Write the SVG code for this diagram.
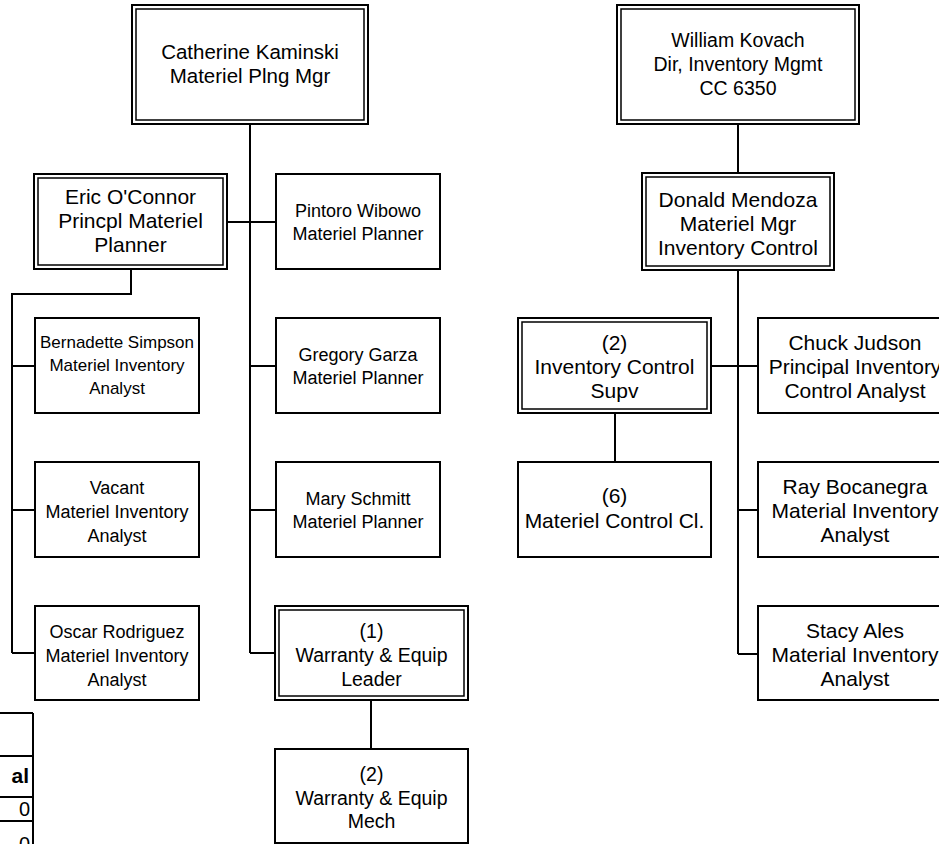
<svg xmlns="http://www.w3.org/2000/svg" width="939" height="844" viewBox="0 0 939 844">
<style>
.box{fill:#fff;stroke:#000;stroke-width:2}
.inner{fill:none;stroke:#000;stroke-width:1.5}
.ln{fill:none;stroke:#000;stroke-width:2}
text{font-family:"Liberation Sans",Arial,sans-serif;font-size:19px;fill:#000;text-anchor:middle}
.f17{font-size:17px}
.f18{font-size:18px}
.f195{font-size:19.5px}
.f20{font-size:20px}
.f205{font-size:20.5px}
.f21{font-size:21px}
.tb{text-anchor:end}
.bold{font-weight:bold}
</style>
<rect width="939" height="844" fill="#fff"/>
<g id="connectors">
<path class="ln" d="M250 124V653M227 222H276M250 366H276M250 510H276M250 653H275"/>
<path class="ln" d="M131 269V294H12V653M12 366H35M12 510H35M12 653H35"/>
<path class="ln" d="M371 700V749"/>
<path class="ln" d="M738 124V173M738 270V654M711 366H758M738 510H758M738 654H758"/>
<path class="ln" d="M615 413V462"/>
</g>
<g id="catherine">
<rect class="box" x="132" y="5" width="236" height="119"/><rect class="inner" x="136" y="9" width="228" height="111"/>
<text class="f205" x="250" y="59">Catherine Kaminski</text><text class="f205" x="250" y="83">Materiel Plng Mgr</text>
</g>
<g id="eric">
<rect class="box" x="34" y="174" width="193" height="95"/><rect class="inner" x="38" y="178" width="185" height="87"/>
<text class="f21" x="130.5" y="204">Eric O'Connor</text><text class="f21" x="130.5" y="228">Princpl Materiel</text><text class="f21" x="130.5" y="252">Planner</text>
</g>
<g id="pintoro">
<rect class="box" x="276" y="174" width="164" height="95"/>
<text class="f18" x="358" y="217">Pintoro Wibowo</text><text class="f18" x="358" y="240">Materiel Planner</text>
</g>
<g id="bernadette">
<rect class="box" x="35" y="318" width="164" height="95"/>
<text class="f17" x="117" y="348">Bernadette Simpson</text><text class="f17" x="117" y="371">Materiel Inventory</text><text class="f17" x="117" y="394">Analyst</text>
</g>
<g id="vacant">
<rect class="box" x="35" y="462" width="164" height="95"/>
<text class="f18" x="117" y="494">Vacant</text><text class="f18" x="117" y="518">Materiel Inventory</text><text class="f18" x="117" y="542">Analyst</text>
</g>
<g id="oscar">
<rect class="box" x="35" y="606" width="164" height="94"/>
<text class="f18" x="117" y="638">Oscar Rodriguez</text><text class="f18" x="117" y="662">Materiel Inventory</text><text class="f18" x="117" y="686">Analyst</text>
</g>
<g id="gregory">
<rect class="box" x="276" y="318" width="164" height="95"/>
<text class="f18" x="358" y="361">Gregory Garza</text><text class="f18" x="358" y="384">Materiel Planner</text>
</g>
<g id="mary">
<rect class="box" x="276" y="462" width="164" height="95"/>
<text class="f18" x="358" y="505">Mary Schmitt</text><text class="f18" x="358" y="528">Materiel Planner</text>
</g>
<g id="warranty-leader">
<rect class="box" x="275" y="606" width="193" height="94"/><rect class="inner" x="279" y="610" width="185" height="86"/>
<text class="f195" x="371.5" y="638">(1)</text><text class="f195" x="371.5" y="662">Warranty &amp; Equip</text><text class="f195" x="371.5" y="686">Leader</text>
</g>
<g id="warranty-mech">
<rect class="box" x="275" y="749" width="193" height="94"/>
<text class="f195" x="371.5" y="781">(2)</text><text class="f195" x="371.5" y="805">Warranty &amp; Equip</text><text class="f195" x="371.5" y="828">Mech</text>
</g>
<g id="william">
<rect class="box" x="617" y="5" width="242" height="119"/><rect class="inner" x="621" y="9" width="234" height="111"/>
<text class="f195" x="738" y="47">William Kovach</text><text class="f195" x="738" y="71">Dir, Inventory Mgmt</text><text class="f195" x="738" y="95">CC 6350</text>
</g>
<g id="donald">
<rect class="box" x="642" y="173" width="192" height="97"/><rect class="inner" x="646" y="177" width="184" height="89"/>
<text class="f21" x="738" y="207">Donald Mendoza</text><text class="f21" x="738" y="231">Materiel Mgr</text><text class="f21" x="738" y="255">Inventory Control</text>
</g>
<g id="inv-control-supv">
<rect class="box" x="518" y="318" width="193" height="95"/><rect class="inner" x="522" y="322" width="185" height="87"/>
<text class="f21" x="614.5" y="350">(2)</text><text class="f21" x="614.5" y="374">Inventory Control</text><text class="f21" x="614.5" y="398">Supv</text>
</g>
<g id="materiel-control-cl">
<rect class="box" x="518" y="462" width="193" height="95"/>
<text class="f21" x="614.5" y="503">(6)</text><text class="f21" x="614.5" y="528">Materiel Control Cl.</text>
</g>
<g id="chuck">
<rect class="box" x="758" y="318" width="195" height="95"/>
<text class="f21" x="855" y="350">Chuck Judson</text><text class="f21" x="855" y="374">Principal Inventory</text><text class="f21" x="855" y="398">Control Analyst</text>
</g>
<g id="ray">
<rect class="box" x="758" y="462" width="195" height="95"/>
<text class="f21" x="855" y="494">Ray Bocanegra</text><text class="f21" x="855" y="518">Material Inventory</text><text class="f21" x="855" y="542">Analyst</text>
</g>
<g id="stacy">
<rect class="box" x="758" y="606" width="195" height="94"/>
<text class="f21" x="855" y="638">Stacy Ales</text><text class="f21" x="855" y="662">Material Inventory</text><text class="f21" x="855" y="686">Analyst</text>
</g>
<g id="table">
<path class="ln" d="M33 713V844M0 713H33M0 756H33M0 797H33M0 821H33"/>
<text class="tb bold f21" x="29" y="783">al</text>
<text class="tb f20" x="30" y="816">0</text>
<text class="tb f20" x="30" y="851">0</text>
</g>
</svg>
